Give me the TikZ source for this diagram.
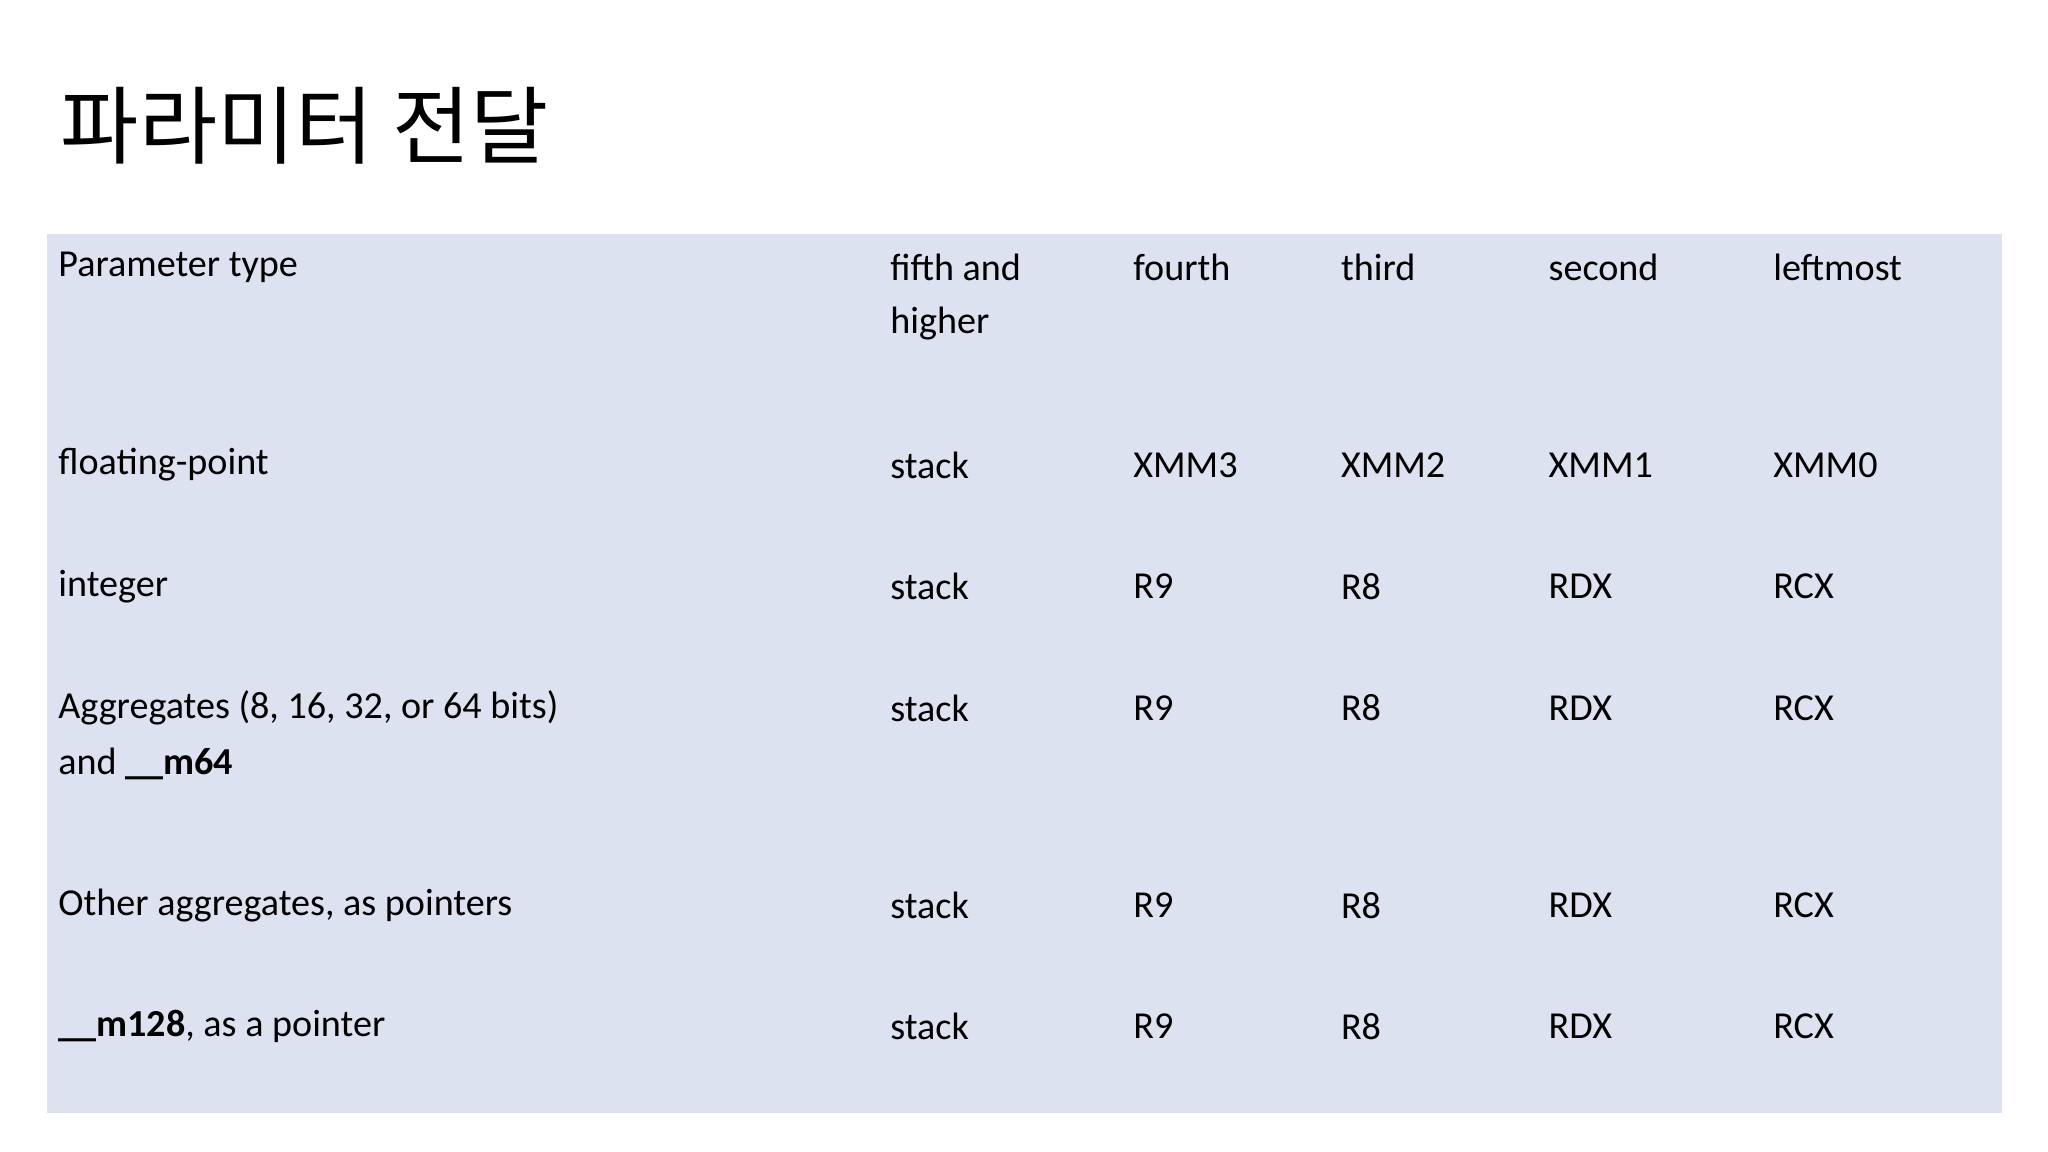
\documentclass[tikz,border=0pt]{standalone}
\usepackage{fontspec}
\setmainfont{Carlito}
\newfontfamily\kr{Noto Sans CJK KR}
\begin{document}
\begin{tikzpicture}[x=0.01cm,y=-0.01cm,
  cell/.style={anchor=west,inner sep=0pt,font=\fontsize{8.3}{10}\selectfont,text=black}]
\useasboundingbox (0,0) rectangle (1568,882);
\fill[white] (0,0) rectangle (1568,882);
\fill[fill={rgb,255:red,221;green,226;blue,241}] (36,179) rectangle (1533,852);
\node[anchor=west,inner sep=0pt,font=\kr\fontsize{18.5}{22}\selectfont] (title) at (46,96) {파라미터 전달};
\foreach \x/\t [count=\i] in {44/Parameter type,681/fifth and,867/fourth,1026/third,1185/second,1357/leftmost}
  \node[cell] (h\i) at (\x,205) {\t};
\node[cell] (h2b) at (681,248) {higher};
\node[cell] (r1) at (44,356) {floating-point};
\node[cell] (r2) at (44,449) {integer};
\node[cell] (r3) at (44,542) {Aggregates (8, 16, 32, or 64 bits)};
\node[cell] (r3b) at (44,585) {and \textbf{\_\_m64}};
\node[cell] (r4) at (44,693) {Other aggregates, as pointers};
\node[cell] (r5) at (44,786) {\textbf{\_\_m128}, as a pointer};
\foreach \y/\a/\b/\c/\d [count=\j] in {356/XMM3/XMM2/XMM1/XMM0,449/R9/R8/RDX/RCX,542/R9/R8/RDX/RCX,693/R9/R8/RDX/RCX,786/R9/R8/RDX/RCX}{
  \node[cell] (s\j) at (681,\y) {stack};
  \node[cell] (a\j) at (867,\y) {\a};
  \node[cell] (b\j) at (1026,\y) {\b};
  \node[cell] (c\j) at (1185,\y) {\c};
  \node[cell] (d\j) at (1357,\y) {\d};
}
\end{tikzpicture}
\end{document}
